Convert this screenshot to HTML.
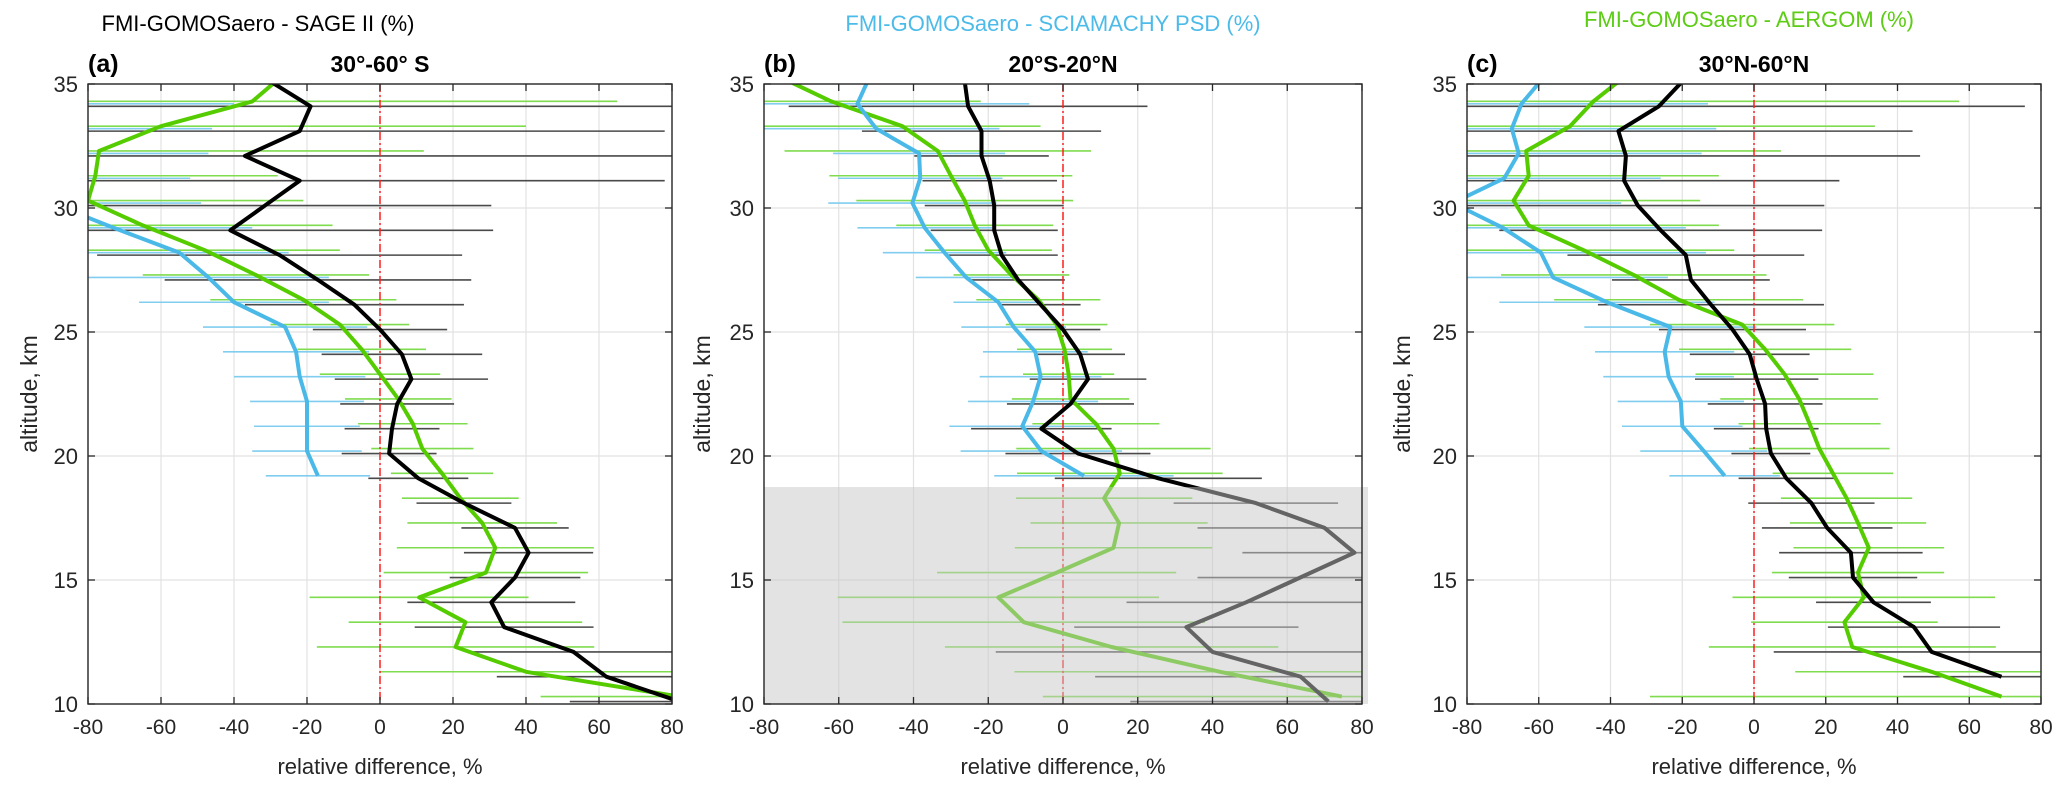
<!DOCTYPE html>
<html><head><meta charset="utf-8"><style>
html,body{margin:0;padding:0;background:#fff;}
svg{display:block;font-family:"Liberation Sans",Arial,sans-serif;}
</style></head><body>
<svg id="chart" width="2067" height="791" viewBox="0 0 2067 791" xmlns="http://www.w3.org/2000/svg">
<text x="258" y="31" font-size="22" text-anchor="middle" fill="#000">FMI-GOMOSaero -  SAGE II (%)</text>
<text x="1053" y="31" font-size="22" text-anchor="middle" fill="#4cbbe9">FMI-GOMOSaero -  SCIAMACHY PSD (%)</text>
<text x="1749" y="27" font-size="22" text-anchor="middle" fill="#5ccc14">FMI-GOMOSaero -  AERGOM (%)</text>
</svg>
<script>
const altitudes=[10,11,12,13,14,15,16,17,18,19,20,21,22,23,24,25,26,27,28,29,30,31,32,33,34,35];
const xTicks=[-80,-60,-40,-20,0,20,40,60,80];
const yTicks=[10,15,20,25,30,35];
const N=null;
// Panel a
const aBlack=[82,62,53,34,30.5,37,40.7,37,23,10.5,2.5,3.3,4.7,8.6,6,0,-7,-17,-27.5,-41,-31.5,-22,-37,-22,-19,-30];
const aBlackErr=[30,30,28,24.5,23,17.9,17.7,14.7,13,13.7,13,13,15.6,21,22,18.4,30,42,50,72,62,100,120,100,110,100];
const aGreen=[82,40,20.7,23.4,10.7,29,31.6,28,22,17,11.6,9,5,0,-5,-11,-21,-34,-48,-65,-80,-78,-77,-60,-35,-27];
const aGreenErr=[38,40,38,32,30,28,27,20.5,16,14,14,15,14.6,16.5,17.6,19,25.5,31,37,52,59,50,89,100,100,100];
const aBlue=[N,N,N,N,N,N,N,N,N,-17,-20,-20,-20,-22,-23,-26,-40,-47,-55,-73,-90,-95,-95,-95,-95,N];
const aBlueErr=[N,N,N,N,N,N,N,N,N,14.3,15,14.5,15.6,18,20,22.5,26,33,30,38,41,43,48,49,55,N];
// Panel b
const bBlack=[71,63.6,40,33,49,63.5,78,70,51.6,25.5,4,-5.8,2,6.7,4.6,0,-6,-12,-16.4,-18.4,-18.4,-19.6,-21.8,-21.8,-25.4,-26.3];
const bBlackErr=[53,55,58,30,32,27.5,30,34,22,27.7,19.4,18.8,17,15.6,12,10,10.7,12.5,15,17,18.6,18,18,32,48,48];
const bGreen=[74.6,42,13,-10.5,-17.3,-1.7,13.5,15,11,15.2,13.5,8.8,2,1.5,0.4,-1.7,-6.6,-13.8,-20,-23.6,-26.3,-30,-33.5,-43,-62,-76];
const bGreenErr=[80,55,44.6,48.5,43,32,26.4,23.7,23.6,27.5,26,17,15.7,12.2,12.7,13.6,16.6,15.5,17,21,29,32.5,41,37,40,40];
const bBlue=[N,N,N,N,N,N,N,N,N,5.6,-5.8,-10.9,-8,-6,-7.4,-13.2,-17.3,-25.9,-31.7,-37,-40.3,-38.2,-38.5,-50,-55,-52];
const bBlueErr=[N,N,N,N,N,N,N,N,N,24,21.6,19.5,17.4,16.3,14,14,12,13.5,16.5,18,22.5,22,23,33,46,46];
const bShadeTop=18.75;
// Panel c
const cBlack=[N,69,49.5,44.6,33.3,27.6,27,20.4,16,9,4.7,3.4,3.1,0.75,-1.2,-6,-12,-17.6,-19,-26,-32.4,-36.2,-35.7,-37.8,-26.5,-20];
const cBlackErr=[N,27.4,44,24,16,17.9,20,18.2,17.6,13.3,11,14.6,16,17.2,16.7,20.5,31.5,22,33,45,52,60,82,82,102,102];
const cGreen=[69,49.5,27.4,25.2,30.6,29,32,29,25.8,22,18.2,15.5,12.6,8.5,3.1,-3.3,-21,-33.5,-47.5,-62.8,-67,-62.8,-63.5,-51.3,-44.8,-36];
const cGreenErr=[98,38,40,26,36.6,24,21,19,18.3,16.8,19.6,19.8,22,24.8,24,25.7,34.7,37,42,53,52,53,71,85,102,102];
const cBlue=[N,N,N,N,N,N,N,N,N,-8.2,-14,-20,-20.4,-23.8,-24.9,-23.3,-41,-56,-59.4,-70,-84,-69.6,-65.6,-67.5,-64.8,-59];
const cBlueErr=[N,N,N,N,N,N,N,N,N,15.4,17.7,16.8,17.6,18.2,19.4,24,30,32,46,51,47,43.6,51,57,52,52];

const NS="http://www.w3.org/2000/svg";
const svg=document.getElementById('chart');
function mk(tag,attrs,parent){const e=document.createElementNS(NS,tag);for(const k in attrs)e.setAttribute(k,attrs[k]);(parent||svg).appendChild(e);return e;}

const panels=[
 {id:'a',x0:88,x1:672,label:'(a)',region:'30°-60° S',black:aBlack,blackErr:aBlackErr,green:aGreen,greenErr:aGreenErr,blue:aBlue,blueErr:aBlueErr,ylab:37},
 {id:'b',x0:764,x1:1362,label:'(b)',region:'20°S-20°N',black:bBlack,blackErr:bBlackErr,green:bGreen,greenErr:bGreenErr,blue:bBlue,blueErr:bBlueErr,ylab:710,shade:bShadeTop},
 {id:'c',x0:1467,x1:2041,label:'(c)',region:'30°N-60°N',black:cBlack,blackErr:cBlackErr,green:cGreen,greenErr:cGreenErr,blue:cBlue,blueErr:cBlueErr,ylab:1410}
];
const yTop=84,yBot=704;
const offs={green:0.3,blue:0.2,black:0.1};

panels.forEach(p=>{
  const sx=v=>p.x0+(v+80)/160*(p.x1-p.x0);
  const sy=a=>yBot-(a-10)/25*(yBot-yTop);
  const g=mk('g',{});
  
  
  const clip=mk('clipPath',{id:'clip'+p.id},g);
  mk('rect',{x:p.x0,y:yTop,width:p.x1-p.x0,height:yBot-yTop},clip);
  // grid
  xTicks.forEach(t=>{const l=mk('line',{x1:sx(t),x2:sx(t),y1:yTop,y2:yBot,stroke:'#e2e2e2','stroke-width':1.2},g);
    });
  yTicks.forEach(t=>{const l=mk('line',{x1:p.x0,x2:p.x1,y1:sy(t),y2:sy(t),stroke:'#e2e2e2','stroke-width':1.2},g);
    });
  const cg=mk('g',{'clip-path':'url(#clip'+p.id+')'},g);
  // error bars
  [['green','#7fdc4e',p.green,p.greenErr],['blue','#80cdef',p.blue,p.blueErr],['black','#4a4a4a',p.black,p.blackErr]].forEach(([nm,col,vals,errs])=>{
    altitudes.forEach((a,i)=>{
      if(vals[i]===null||errs[i]===null)return;
      const y=sy(a+offs[nm]);
      const b=mk('line',{x1:sx(vals[i]-errs[i]),x2:sx(vals[i]+errs[i]),y1:y,y2:y,stroke:col,'stroke-width':1.6},cg);
      
      
    });
  });
  // zero line
  const z=mk('line',{x1:sx(0),x2:sx(0),y1:yTop,y2:yBot,stroke:'#ff2020','stroke-width':1.5,'stroke-dasharray':'8,3,2,3'},cg);
  
  
  // lines
  [['green','#55cc00',p.green],['blue','#4ab9e8',p.blue],['black','#000',p.black]].forEach(([nm,col,vals])=>{
    let d='';let pen=false;
    altitudes.forEach((a,i)=>{
      if(vals[i]===null){pen=false;return;}
      d+=(pen?'L':'M')+sx(vals[i]).toFixed(1)+' '+sy(a+offs[nm]).toFixed(1)+' ';pen=true;
    });
    const l=mk('path',{d:d,fill:'none',stroke:col,'stroke-width':4,'stroke-linejoin':'round'},cg);
    
    
  });
  // shading overlay
  if(p.shade){
    const r=mk('rect',{x:p.x0,y:sy(p.shade),width:p.x1-p.x0+6,height:yBot-sy(p.shade),fill:'rgba(200,200,200,0.5)'},g);
    
    
  }
  // axes box
  const box=mk('rect',{x:p.x0,y:yTop,width:p.x1-p.x0,height:yBot-yTop,fill:'none',stroke:'#262626','stroke-width':1.4},g);
  
  
  xTicks.forEach(t=>{
    mk('line',{x1:sx(t),x2:sx(t),y1:yBot,y2:yBot-7,stroke:'#262626','stroke-width':1.3},g);
    mk('line',{x1:sx(t),x2:sx(t),y1:yTop,y2:yTop+7,stroke:'#262626','stroke-width':1.3},g);
    const tx=mk('text',{x:sx(t),y:734,'font-size':21,'text-anchor':'middle',fill:'#262626'},g);
    tx.textContent=t;
    
    
  });
  yTicks.forEach(t=>{
    mk('line',{x1:p.x0,x2:p.x0+7,y1:sy(t),y2:sy(t),stroke:'#262626','stroke-width':1.3},g);
    mk('line',{x1:p.x1,x2:p.x1-7,y1:sy(t),y2:sy(t),stroke:'#262626','stroke-width':1.3},g);
    const tx=mk('text',{x:p.x0-10,y:sy(t)+8,'font-size':22,'text-anchor':'end',fill:'#262626'},g);
    tx.textContent=t;
    
    
  });
  const xt=mk('text',{x:(p.x0+p.x1)/2,y:774,'font-size':22,'text-anchor':'middle',fill:'#262626'},g);
  xt.textContent='relative difference, %';
  
  
  const yt=mk('text',{x:p.ylab,y:394,'font-size':23,'text-anchor':'middle',fill:'#262626',transform:'rotate(-90 '+p.ylab+' 394)'},g);
  yt.textContent='altitude, km';
  
  
  const pl=mk('text',{x:p.x0,y:72,'font-size':25,'font-weight':'bold',fill:'#000'},g);
  pl.textContent=p.label;
  
  
  const rt=mk('text',{x:sx(0),y:72,'font-size':23,'font-weight':'bold','text-anchor':'middle',fill:'#000'},g);
  rt.textContent=p.region;
  
  
});
</script>
</body></html>
